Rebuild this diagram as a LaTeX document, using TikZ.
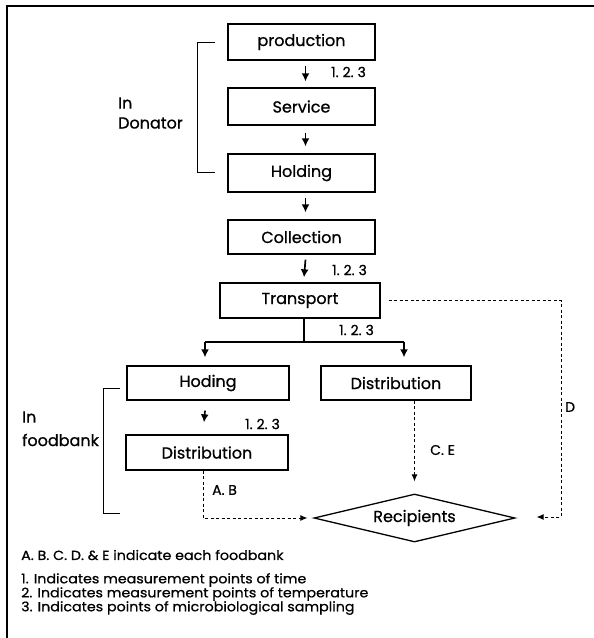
\documentclass[tikz,border=0pt]{standalone}
\usepackage{fontspec}
\setmainfont{Poppins}[FakeBold=0.8]
\usetikzlibrary{arrows.meta,shapes.geometric,calc}
\begin{document}
\begin{tikzpicture}[x=1pt,y=-1pt,
  box/.style={draw,line width=1.3pt,inner sep=0pt,font=\fontsize{16}{18}\selectfont},
  arr/.style={line width=1.7pt,-{Latex[length=8pt,width=8pt]}},
  dsh/.style={line width=0.9pt,dash pattern=on 3pt off 2.5pt},
  dsharr/.style={dsh,-{Latex[length=7pt,width=6pt]}},
  num/.style={inner sep=0pt,anchor=west,font=\fontsize{14}{16}\selectfont},
  lbl/.style={inner sep=0pt,anchor=west,font=\fontsize{16}{18}\selectfont},
  leg/.style={inner sep=0pt,anchor=west,font=\fontsize{13.2}{15}\selectfont\addfontfeature{FakeStretch=1.08}},
  brk/.style={line width=1pt}]
\useasboundingbox (0,0) rectangle (594,638);
% frame
\draw[line width=1.6pt] (7,638) -- (7,6) -- (594,6);
% boxes
\node[box,minimum width=147pt,minimum height=36pt] (prod) at (301.5,42) {production};
\node[box,minimum width=147pt,minimum height=37pt] (serv) at (301.5,106.5) {Service};
\node[box,minimum width=147pt,minimum height=38pt] (hold) at (301.5,173) {Holding};
\node[box,minimum width=147pt,minimum height=34pt] (coll) at (301.5,237) {Collection};
\node[box,minimum width=160pt,minimum height=35pt] (trans) at (300,300.5) {Transport};
\node[box,minimum width=162pt,minimum height=34pt] (hod) at (208,383) {Hoding};
\node[box,minimum width=150pt,minimum height=34pt] (distr) at (396,383) {Distribution};
\node[box,minimum width=162pt,minimum height=35pt] (distl) at (207,452.5) {Distribution};
\node[box,diamond,aspect=4.19,minimum width=201pt,minimum height=48pt] (recip) at (414.5,518) {Recipients};
% main arrows
\draw[arr] ([xshift=4pt,yshift=-5pt]prod.south) -- ([xshift=4pt,yshift=6pt]serv.north);
\draw[arr] ([xshift=4pt,yshift=-7pt]serv.south) -- ([xshift=4pt,yshift=7pt]hold.north);
\draw[arr] ([xshift=4pt,yshift=-5pt]hold.south) -- ([xshift=4pt,yshift=7pt]coll.north);
\draw[arr] ([xshift=4pt,yshift=-5pt]coll.south) -- ([xshift=4pt,yshift=5pt]trans.north);
% branch
\coordinate (bm) at (304,342);
\coordinate (bl) at (205,342);
\coordinate (br) at (404,342);
\draw[line width=1.3pt] (trans.south -| bm) -- (bm);
\draw[line width=1.3pt] (bl) -- (br);
\draw[arr] (bl) -- ([yshift=8pt]bl |- hod.north);
\draw[arr] (br) -- ([yshift=8pt]br |- distr.north);
\draw[arr] ([xshift=-3pt,yshift=-10pt]hod.south) -- ([xshift=-3pt,yshift=12pt]distl.north);
% dashed
\coordinate (dc) at (561,517);
\draw[dsharr] ([xshift=8pt]trans.east) -| (dc) -- ([xshift=21pt,yshift=1pt]recip.east);
\draw[dsharr] ([xshift=-4pt]distl.south) |- ([xshift=-6pt]recip.west);
\draw[dsharr] (distr.south -| recip.north) -- ([yshift=12pt]recip.north);
% labels
\node[num] (n1) at (331,72) {1.\hspace{4pt}2.\hspace{4pt}3};
\node[num] (n2) at (332,270) {1.\hspace{4pt}2.\hspace{4pt}3};
\node[num] (n3) at (339,330) {1.\hspace{4pt}2.\hspace{4pt}3};
\node[num] (n4) at (245,424) {1.\hspace{4pt}2.\hspace{4pt}3};
\node[lbl,font=\fontsize{14}{16}\selectfont] (ab) at (212,490) {A. B};
\node[lbl,font=\fontsize{14}{16}\selectfont] (ce) at (430,450) {C. E};
\node[lbl,font=\fontsize{14}{16}\selectfont] (d) at (565,407) {D};
\node[lbl] (in1) at (118,103) {In};
\node[lbl] (don) at (118,123) {Donator};
\node[lbl] (in2) at (22,417) {In};
\node[lbl] (fb) at (22,440) {foodbank};
% brackets
\draw[brk] (215,42) -- (197,42) -- (197,172) -- (215,172);
\draw[brk] (120,388) -- (103,388) -- (103,513) -- (120,513);
% legend
\node[leg] (l0) at (21,555) {A. B. C. D. \& E indicate each foodbank};
\node[leg] (l1) at (21,580) {1. Indicates measurement points of time};
\node[leg] (l2) at (21,594) {2. Indicates measurement points of temperature};
\node[leg] (l3) at (21,608) {3. Indicates points of microbiological sampling};
\end{tikzpicture}
\end{document}
